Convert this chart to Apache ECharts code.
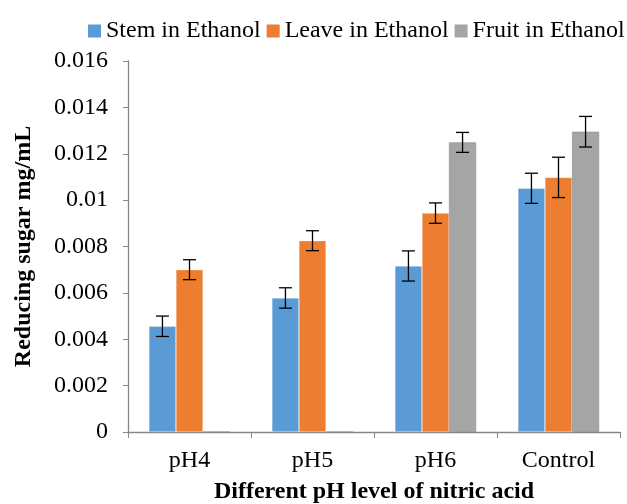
<!DOCTYPE html>
<html><head><meta charset="utf-8">
<script src="https://cdn.jsdelivr.net/npm/echarts@6/dist/echarts.min.js"></script>
<style>html,body{margin:0;padding:0;background:#fff}#c{width:627px;height:504px}</style>
</head><body><div id="c"></div>
<script>
const categories = ['pH4', 'pH5', 'pH6', 'Control'];
const seriesNames = ['Stem in Ethanol', 'Leave in Ethanol', 'Fruit in Ethanol'];
const stemValues = [0.00456, 0.00578, 0.00716, 0.01051];
const leaveValues = [0.0070, 0.00825, 0.00944, 0.01098];
const fruitValues = [0, 0, 0.01249, 0.01295];
const stemErrors = [0.00044, 0.00044, 0.00065, 0.00065];
const leaveErrors = [0.00043, 0.00043, 0.00044, 0.00087];
const fruitErrors = [0, 0, 0.00043, 0.00066];
const yTicks = [0, 0.002, 0.004, 0.006, 0.008, 0.01, 0.012, 0.014, 0.016];

const colors = ['#5b9bd5', '#ed7d31', '#a5a5a5'];
const values = [stemValues, leaveValues, fruitValues];
const errors = [stemErrors, leaveErrors, fruitErrors];
const font = '"Liberation Serif", "Times New Roman", serif';

const chart = echarts.init(document.getElementById('c'));
const barGapPct = 0.34;

function errSeries(idx) {
  return {
    type: 'custom',
    name: seriesNames[idx] + ' err',
    z: 10,
    silent: true,
    data: categories.map((c, i) => [i, values[idx][i], errors[idx][i]]),
    renderItem: function (params, api) {
      const i = api.value(0), v = api.value(1), e = api.value(2);
      if (!e) return null;
      const bandW = api.size([1, 0])[0];
      const inner = bandW * (1 - barGapPct);
      const bw = inner / 3;
      const center = api.coord([i, 0])[0];
      const x = center - inner / 2 + bw * (idx + 0.5);
      const top = api.coord([i, v + e])[1];
      const bot = api.coord([i, v - e])[1];
      const cap = 6.5;
      const st = { stroke: '#000', lineWidth: 1.3 };
      return { type: 'group', children: [
        { type: 'line', shape: { x1: x, y1: top, x2: x, y2: bot }, style: st },
        { type: 'line', shape: { x1: x - cap, y1: top, x2: x + cap, y2: top }, style: st },
        { type: 'line', shape: { x1: x - cap, y1: bot, x2: x + cap, y2: bot }, style: st }
      ]};
    }
  };
}

const borderColors = ['rgba(255,255,255,0.6)', 'rgba(255,255,255,0.6)', '#8a8a8a'];
const barSeries = seriesNames.map((n, idx) => ({
  type: 'bar', name: n, data: values[idx],
  barGap: '0%', barCategoryGap: (barGapPct * 100) + '%',
  itemStyle: { color: colors[idx], borderColor: borderColors[idx], borderWidth: idx === 2 ? 0.6 : 0.5 }
}));

chart.setOption({
  animation: false,
  textStyle: { fontFamily: font },
  legend: {
    data: seriesNames.map((n, idx) => ({ name: n, itemStyle: { color: colors[idx], borderWidth: 0 } })),
    top: 19, left: 88, width: 620, padding: 0,
    itemWidth: 13, itemHeight: 13, itemGap: 6, icon: 'rect',
    textStyle: { fontFamily: font, fontSize: 24, color: '#000' }
  },
  grid: { left: 128, right: 7, top: 61, bottom: 72, containLabel: false, outerBoundsMode: 'none' },
  xAxis: {
    type: 'category', data: categories,
    name: 'Different pH level of nitric acid', nameLocation: 'middle', nameGap: 48,
    nameTextStyle: { fontFamily: font, fontSize: 24, fontWeight: 'bold', color: '#000' },
    axisLine: { lineStyle: { color: '#868686', width: 1.3 } },
    axisTick: { show: true, length: 6, lineStyle: { color: '#868686' } },
    axisLabel: { fontFamily: font, fontSize: 24, color: '#000', margin: 17 }
  },
  yAxis: {
    type: 'value', min: 0, max: 0.016, interval: 0.002,
    name: 'Reducing sugar mg/mL', nameLocation: 'middle', nameGap: 92, nameRotate: 90,
    nameTextStyle: { fontFamily: font, fontSize: 24, fontWeight: 'bold', color: '#000' },
    axisLine: { show: true, lineStyle: { color: '#868686', width: 1.3 } },
    axisTick: { show: true, length: 5, lineStyle: { color: '#868686' } },
    splitLine: { show: false },
    axisLabel: { fontFamily: font, fontSize: 24, color: '#000', margin: 20,
      formatter: v => String(parseFloat(v.toFixed(3))) }
  },
  series: barSeries.concat([errSeries(0), errSeries(1), errSeries(2)])
});
</script>
</body></html>
